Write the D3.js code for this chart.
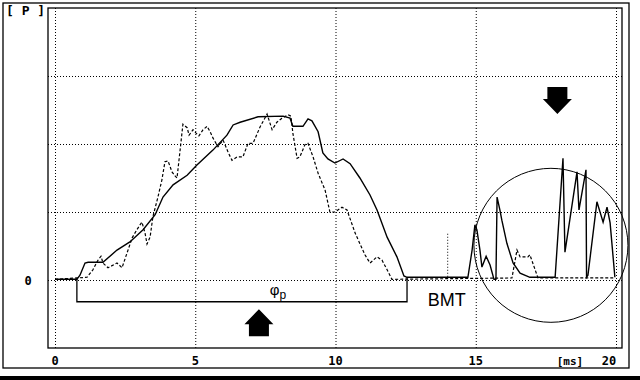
<!DOCTYPE html>
<html><head><meta charset="utf-8">
<script src="https://cdn.jsdelivr.net/npm/d3@7"></script>
<style>html,body{margin:0;padding:0;background:#fff;}svg{display:block;}text{fill:#000;}</style>
</head><body>
<script>
// ---- data (time in ms, pressure in grid units) ----
const solidT = [0.00,0.78,0.89,1.07,1.18,1.71,2.21,2.67,3.14,3.57,3.85,4.21,4.71,5.06,5.63,6.13,6.35,6.60,7.24,8.13,8.38,8.48,8.84,9.02,9.16,9.38,9.55,9.73,9.98,10.27,10.52,10.87,11.23,11.48,11.84,12.19,12.44,12.55,13.01,14.72,14.87,14.97,15.04,15.15,15.22,15.37,15.51,15.65,15.72,15.76,15.86,15.93,16.11,16.33,16.58,16.93,17.83,18.11,18.18,18.61,18.68,18.93,18.95,19.00,19.32,19.54,19.68,19.79,19.96];
const solidP = [0.01,0.01,0.07,0.25,0.26,0.26,0.44,0.56,0.74,0.96,1.22,1.40,1.54,1.69,1.91,2.13,2.28,2.32,2.40,2.41,2.38,2.26,2.26,2.37,2.34,2.18,1.87,1.78,1.72,1.78,1.71,1.50,1.25,1.03,0.63,0.34,0.06,0.04,0.04,0.04,0.44,0.81,0.74,0.44,0.19,0.35,0.22,0.01,0.01,1.22,1.03,0.88,0.54,0.25,0.10,0.04,0.04,1.79,0.41,1.59,1.03,1.62,0.04,0.07,1.15,0.85,1.07,0.84,0.04];
const dashT = [0.00,0.78,1.14,1.35,1.53,1.64,1.71,1.89,2.21,2.39,2.57,2.75,2.92,3.03,3.10,3.21,3.28,3.39,3.49,3.67,3.81,3.92,4.03,4.17,4.28,4.35,4.46,4.56,4.71,4.78,4.92,5.03,5.13,5.28,5.42,5.53,5.63,5.81,5.99,6.17,6.31,6.49,6.70,6.88,7.06,7.31,7.56,7.74,7.91,8.09,8.31,8.41,8.48,8.63,8.73,8.91,9.02,9.20,9.38,9.63,9.80,9.98,10.23,10.41,10.70,11.05,11.23,11.48,11.66,11.84,12.01,16.29,16.47,16.58,16.86,16.93,17.22,19.96];
const dashP = [0.01,0.03,0.04,0.15,0.29,0.35,0.25,0.18,0.25,0.18,0.40,0.62,0.74,0.81,0.85,0.69,0.53,0.63,0.93,1.22,1.47,1.74,1.75,1.59,1.53,1.50,1.91,2.29,2.24,2.13,2.21,2.16,2.12,2.21,2.26,2.18,2.09,1.96,2.06,1.88,1.76,1.81,1.81,2.01,2.01,2.25,2.44,2.21,2.32,2.38,2.43,2.41,2.16,1.79,1.81,1.99,2.01,1.81,1.57,1.32,1.00,1.00,1.07,1.03,0.69,0.37,0.25,0.34,0.29,0.15,0.01,0.03,0.44,0.34,0.34,0.37,0.03,0.03];
const xTicks = [0,5,10,15,20];
const xTickLabels = ["0","5","10","15","20"];
const yGrid = [0,1,2,3];
const bracketT = [0.78,12.55];
const bmtT = 14.0;

const W=640,H=380;
const x=d3.scaleLinear().domain([0,20]).range([55,616]);
const y=d3.scaleLinear().domain([-1,4]).range([348,8]);

const svg=d3.select("body").append("svg").attr("width",W).attr("height",H);

// outer frame and bottom bar
svg.append("rect").attr("x",3).attr("y",3).attr("width",626).attr("height",365)
  .attr("fill","none").attr("stroke","#000").attr("stroke-width",1.3);
svg.append("rect").attr("x",0).attr("y",376).attr("width",W).attr("height",4).attr("fill","#000");

// grid
const g=svg.append("g");
g.selectAll(".vg").data(xTicks).enter().append("line")
  .attr("x1",d=>x(d)+0.5).attr("x2",d=>x(d)+0.5).attr("y1",y(4)).attr("y2",y(-1))
  .attr("stroke","#000").attr("stroke-width",1).attr("stroke-dasharray","1,2");
g.selectAll(".hg").data(yGrid).enter().append("line")
  .attr("x1",x.range()[0]-7).attr("x2",622).attr("y1",d=>y(d)+0.5).attr("y2",d=>y(d)+0.5)
  .attr("stroke","#000").attr("stroke-width",1).attr("stroke-dasharray","1,2");

// plot frame
svg.append("rect").attr("x",48).attr("y",8).attr("width",574).attr("height",340)
  .attr("fill","none").attr("stroke","#000").attr("stroke-width",1.3);

// tick labels
svg.selectAll(".xt").data(xTicks).enter().append("text")
  .attr("x",(d,i)=> i===4 ? x(d)-7 : x(d)).attr("y",365)
  .attr("text-anchor","middle").attr("font-family","DejaVu Sans Mono").attr("font-weight","bold")
  .attr("font-size",12).attr("fill","#000")
  .text((d,i)=>xTickLabels[i]);
svg.append("text").attr("x",570).attr("y",365).attr("text-anchor","middle")
  .attr("font-family","DejaVu Sans Mono").attr("font-weight","bold").attr("font-size",11)
  .attr("fill","#000").text("[ms]");
svg.append("text").attr("x",28).attr("y",y(0)+5).attr("text-anchor","middle")
  .attr("font-family","DejaVu Sans Mono").attr("font-weight","bold").attr("font-size",12)
  .attr("fill","#000").text("0");
svg.append("text").attr("x",6).attr("y",15).attr("font-family","DejaVu Sans Mono")
  .attr("font-weight","bold").attr("font-size",13).attr("fill","#000")
  .attr("xml:space","preserve").text("[ P ]");

// curves
const line=d3.line().x(d=>x(d[0])).y(d=>y(d[1]));
svg.append("path").datum(dashT.map((t,i)=>[t,dashP[i]])).attr("d",line)
  .attr("fill","none").attr("stroke","#000").attr("stroke-width",1.2).attr("stroke-dasharray","3,2");
svg.append("path").datum(solidT.map((t,i)=>[t,solidP[i]])).attr("d",line)
  .attr("fill","none").attr("stroke","#000").attr("stroke-width",1.4);

// phi_p bracket
const by=y(-0.32);
svg.append("path").attr("d",`M${x(bracketT[0])},${y(0.03)}V${by}H${x(bracketT[1])}V${y(0.04)}`)
  .attr("fill","none").attr("stroke","#000").attr("stroke-width",1.3);
const phi=svg.append("text").attr("x",x(7.95)).attr("y",y(-0.22)).attr("text-anchor","middle")
  .attr("font-family","Liberation Sans, Arial").attr("font-size",15).attr("fill","#000");
phi.append("tspan").text("φ");
phi.append("tspan").attr("font-size",12).attr("dy",4).text("p");

// BMT
svg.append("line").attr("x1",x(bmtT)).attr("x2",x(bmtT)).attr("y1",y(0.68)).attr("y2",y(0.03))
  .attr("stroke","#000").attr("stroke-dasharray","1,2");
svg.append("text").attr("x",x(bmtT)-1).attr("y",y(-0.38)).attr("text-anchor","middle")
  .attr("font-family","Liberation Sans, Arial").attr("font-size",18).attr("fill","#000").text("BMT");

// circle
svg.append("circle").attr("cx",x(17.68)).attr("cy",y(0.51)).attr("r",77)
  .attr("fill","none").attr("stroke","#000").attr("stroke-width",1);

// arrows
function arrow(cx,tipY,dir){
  const s=dir;
  const hh=15, hw=14.5, sh=12, sw=10;
  const p=[[cx,tipY],[cx+hw,tipY-s*hh],[cx+sw,tipY-s*hh],[cx+sw,tipY-s*(hh+sh)],
           [cx-sw,tipY-s*(hh+sh)],[cx-sw,tipY-s*hh],[cx-hw,tipY-s*hh]];
  svg.append("path").attr("d","M"+p.map(q=>q.join(",")).join("L")+"Z").attr("fill","#000");
}
arrow(x(7.27),y(-0.43),-1);
arrow(x(17.91),y(2.44),1);
</script>
</body></html>
